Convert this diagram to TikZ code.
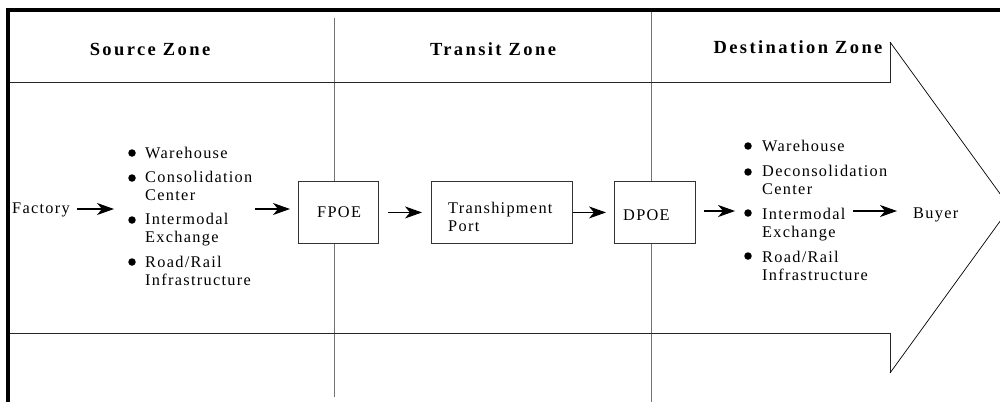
\documentclass[tikz,border=0pt]{standalone}
\usepackage{fontspec}
\setmainfont{Liberation Serif}[LetterSpace=8]
\newfontfamily\hdrfont{Liberation Serif}[LetterSpace=13]
\usetikzlibrary{arrows.meta}
\begin{document}
\begin{tikzpicture}[x=1pt,y=-1pt,
  body/.style={font=\fontsize{16.3}{17.5}\selectfont, inner sep=0pt, align=left},
  hdr/.style={font=\hdrfont\bfseries\fontsize{18.5}{20}\selectfont, inner sep=0pt},
  boxshape/.style={draw=black!80, line width=0.9pt, fill=white, inner sep=0pt},
  arr/.style={-{Stealth[length=17pt,width=12pt,inset=5pt]}, line width=1.1pt},
  gridline/.style={draw=black!55, line width=1pt},
  bul/.style={circle, fill=black, inner sep=0pt, minimum size=7.5pt}
]
\useasboundingbox (0,0) rectangle (1000,402);
\fill[white] (0,0) rectangle (1000,402);
\clip (0,0) rectangle (1000,402);

% zone separators
\draw[gridline] (334,18) -- (334,397);
\draw[gridline] (651,10) -- (651,402);

% big arrow outline
\draw[black!85, line width=1pt, line join=miter] (9,82) -- (890,82) -- (890,42);
\draw[black!85, line width=1pt, line join=miter] (9,333) -- (890,333) -- (890,373);
\draw[black, line width=0.7pt] (890,42) -- (1010,207.5) -- (890,373);

% border
\draw[line width=4pt, line join=miter] (8.3,402) -- (8.3,10.3) -- (1000,10.3);

% headers
\node[hdr, anchor=base] (hsrc) at (150,55) {Source Zone};
\node[hdr, anchor=base] (htrn) at (493,55) {Transit Zone};
\node[hdr, anchor=base] (hdst) at (798,53) {Destination Zone};

% boxes
\node[boxshape, minimum width=80pt, minimum height=62pt, anchor=north west] (fpoe) at (298,181) {};
\node[body, anchor=base west] (fpoetext) at (317,217) {FPOE};
\node[boxshape, minimum width=141pt, minimum height=62pt, anchor=north west] (trans) at (431,181) {};
\node[body, anchor=base west] (transtext) at (448,231) {Transhipment\\Port};
\node[boxshape, minimum width=81pt, minimum height=62pt, anchor=north west] (dpoe) at (614,181) {};
\node[body, anchor=base west] (dpoetext) at (623,220) {DPOE};

% factory and source list
\node[body, anchor=base west] (factory) at (12,213) {Factory};
\node[bul] (lb1) at (132,153) {};
\node[body, anchor=base west] (lw) at (145,158) {Warehouse};
\node[bul] (lb2) at (132,178) {};
\node[body, anchor=base west] (lc) at (145,200) {Consolidation\\Center};
\node[bul] (lb3) at (132,220) {};
\node[body, anchor=base west] (li) at (145,242) {Intermodal\\Exchange};
\node[bul] (lb4) at (132,262) {};
\node[body, anchor=base west] (lr) at (145,285) {Road/Rail\\Infrastructure};

% destination list and buyer
\node[bul] (rb1) at (748,146) {};
\node[body, anchor=base west] (rw) at (762,151) {Warehouse};
\node[bul] (rb2) at (748,172) {};
\node[body, anchor=base west] (rd) at (762,194) {Deconsolidation\\Center};
\node[bul] (rb3) at (748,213) {};
\node[body, anchor=base west] (ri) at (762,237) {Intermodal\\Exchange};
\node[bul] (rb4) at (748,256) {};
\node[body, anchor=base west] (rr) at (762,280) {Road/Rail\\Infrastructure};
\node[body, anchor=base west] (buyer) at (913,218) {Buyer};

% connectors
\coordinate (srcin) at (114,209);
\coordinate (srcout) at (255,209);
\coordinate (bstart) at (853,211);
\draw[arr, shorten <=7pt] (factory.east |- srcin) -- (srcin);
\draw[arr, shorten >=8pt] (srcout) -- (srcout -| fpoe.west);
\draw[arr, shorten <=9pt, shorten >=9pt] (fpoe.east) -- (trans.west);
\draw[arr, shorten >=8pt] (trans.east) -- (dpoe.west);
\draw[arr, shorten <=8pt, shorten >=9pt] (dpoe.east |- bstart) -- (bstart -| rb3.west);
\draw[arr, shorten >=16pt] (bstart) -- (bstart -| buyer.west);
\end{tikzpicture}
\end{document}
